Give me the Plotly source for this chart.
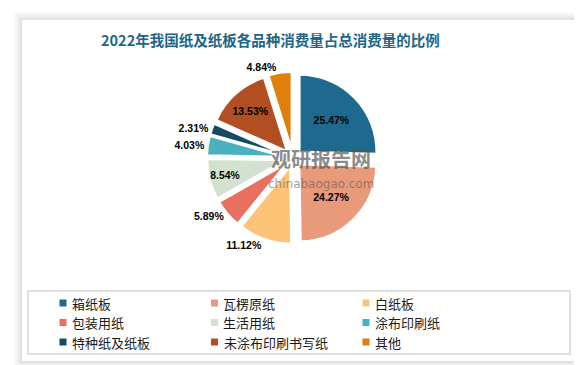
import plotly.graph_objects as go

# ---- data ----
categories = ["箱纸板", "瓦楞原纸", "白纸板", "包装用纸", "生活用纸",
              "涂布印刷纸", "特种纸及纸板", "未涂布印刷书写纸", "其他"]
shares = [25.47, 24.27, 11.12, 5.89, 8.54, 4.03, 2.31, 13.53, 4.84]
colors = ["#1d6a8e", "#e89a7a", "#fdc478", "#e8705e", "#d3e2cf",
          "#49b2c0", "#154a5f", "#b24f22", "#e07f0a"]
text_positions = ["inside", "inside", "outside", "outside", "inside",
                  "outside", "outside", "inside", "outside"]
title_text = "2022年我国纸及纸板各品种消费量占总消费量的比例"

W, H = 582, 365


def px(x):
    return x / W


def py(y):
    return 1 - y / H


fig = go.Figure()

PCX, PCY, PR = 285, 150, 86
label_font = dict(family="Liberation Sans, Arial", size=10.5, color="black", weight="bold")

fig.add_trace(go.Pie(
    labels=categories,
    values=shares,
    sort=False,
    direction="clockwise",
    rotation=0,
    marker=dict(colors=colors, line=dict(color="white", width=2)),
    pull=[0.12] * len(shares),
    texttemplate="%{value:.2f}%",
    textposition=text_positions,
    insidetextorientation="horizontal",
    textfont=label_font,
    outsidetextfont=label_font,
    insidetextfont=label_font,
    showlegend=False,
    hoverinfo="label+value",
    domain=dict(x=[px(PCX - PR), px(PCX + PR)], y=[py(PCY + PR), py(PCY - PR)]),
))

shapes = []
# soft shadow around the card
for i, a in enumerate([0.025, 0.025, 0.03, 0.035]):
    g = 8 - 2 * i
    shapes.append(dict(type="rect", xref="paper", yref="paper", layer="below",
                       x0=px(14 - g), x1=px(567 + g), y0=py(353 + g), y1=py(12 - g),
                       line=dict(width=0), fillcolor=f"rgba(0,0,0,{a})"))
# white card
shapes.append(dict(type="rect", xref="paper", yref="paper", layer="below",
                   x0=px(14), x1=px(567), y0=py(353), y1=py(12),
                   line=dict(width=0), fillcolor="white"))
# legend frame
shapes.append(dict(type="rect", xref="paper", yref="paper", layer="below",
                   x0=px(20), x1=px(562), y0=py(346), y1=py(283),
                   line=dict(color="#d6d6d6", width=1.5), fillcolor="rgba(0,0,0,0)"))

annotations = [
    dict(text="<b>" + title_text + "</b>", xref="paper", yref="paper",
         x=px(262), y=py(32), xanchor="center", yanchor="middle", showarrow=False,
         font=dict(family="Noto Sans CJK SC", size=14.5, color="#1d6689")),
    # watermark
    dict(text="<b>观研报告网</b>", xref="paper", yref="paper",
         x=px(313), y=py(150), xanchor="center", yanchor="middle", showarrow=False,
         font=dict(family="Noto Sans CJK SC", size=20, color="rgba(85,85,85,0.7)")),
    dict(text="chinabaogao.com", xref="paper", yref="paper",
         x=px(313), y=py(176), xanchor="center", yanchor="middle", showarrow=False,
         font=dict(family="DejaVu Sans", size=12, color="rgba(90,90,90,0.6)")),
]

# manual legend (3 columns)
for i, (lab, col) in enumerate(zip(categories, colors)):
    c, r = i % 3, i // 3
    cx = 55 + 151.5 * c
    cy = 295 + 19.5 * r
    shapes.append(dict(type="rect", xref="paper", yref="paper",
                       x0=px(cx - 3.5), x1=px(cx + 3.5), y0=py(cy + 3.5), y1=py(cy - 3.5),
                       line=dict(width=0), fillcolor=col))
    annotations.append(dict(text=lab, xref="paper", yref="paper",
                            x=px(cx + 7), y=py(cy), xanchor="left", yanchor="middle",
                            showarrow=False,
                            font=dict(family="Noto Sans CJK SC", size=13, color="#1a1a1a")))

fig.update_layout(
    width=W, height=H,
    margin=dict(l=0, r=0, t=0, b=0),
    paper_bgcolor="white",
    plot_bgcolor="white",
    shapes=shapes,
    annotations=annotations,
    showlegend=False,
)

fig.write_html("out.html")
